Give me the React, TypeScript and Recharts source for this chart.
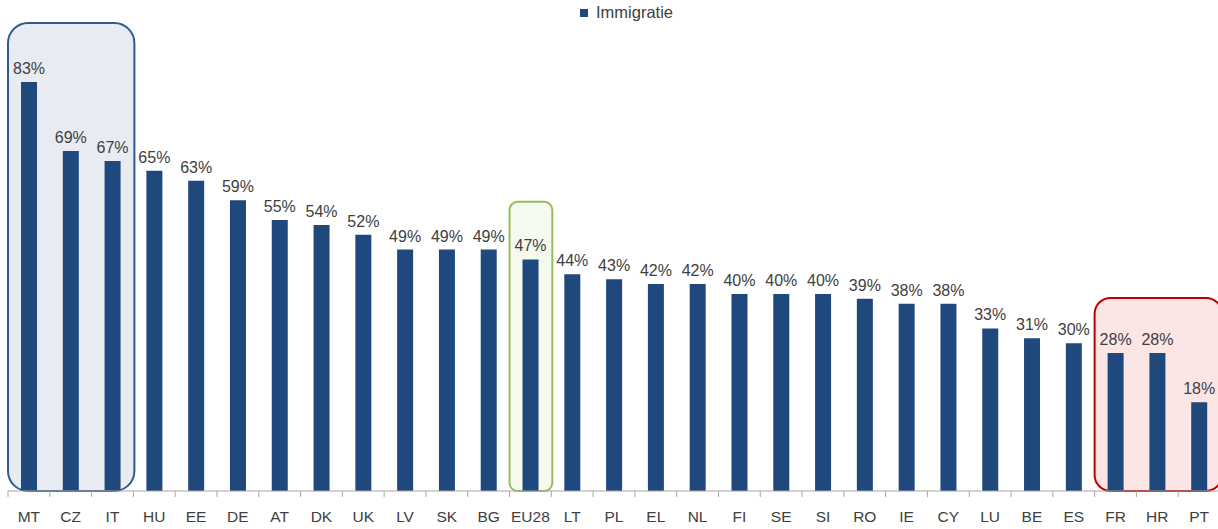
import { BarChart, Bar, XAxis, YAxis, LabelList, Legend, ReferenceArea } from "recharts";

const COUNTRIES = ["MT", "CZ", "IT", "HU", "EE", "DE", "AT", "DK", "UK", "LV", "SK", "BG", "EU28", "LT", "PL", "EL", "NL", "FI", "SE", "SI", "RO", "IE", "CY", "LU", "BE", "ES", "FR", "HR", "PT"];
const IMMIGRATIE = [83, 69, 67, 65, 63, 59, 55, 54, 52, 49, 49, 49, 47, 44, 43, 42, 42, 40, 40, 40, 39, 38, 38, 33, 31, 30, 28, 28, 18];

const BAR_COLOR = "#1f497d";
const TEXT = "#404040";
const FONT = "'Liberation Sans', Arial, sans-serif";

const data = COUNTRIES.map((c, i) => ({ country: c, value: IMMIGRATIE[i] }));

// rounded highlight box, optional extra width on the right
const roundBox = (rx: number, extra = 0) => (props: any) => {
  const { x, y, width, height, fill, stroke } = props;
  return <rect x={x} y={y} width={width + extra} height={height} rx={rx} ry={rx} fill={fill} stroke={stroke} strokeWidth={2} />;
};

function Tick(props: any) {
  const { x, y, payload, index } = props;
  const half = payload.offset ?? 20.9;
  return (
    <g>
      <line x1={x - half} y1={y - 8} x2={x - half} y2={y - 2} stroke="#a6a6a6" />
      {index === COUNTRIES.length - 1 && (
        <line x1={x + half} y1={y - 8} x2={x + half} y2={y - 2} stroke="#a6a6a6" />
      )}
      <text x={x} y={y + 23} textAnchor="middle" fill={TEXT} fontSize={15.5} fontFamily={FONT}>
        {payload.value}
      </text>
    </g>
  );
}

function LegendContent() {
  return (
    <div style={{ position: "relative", height: 23 }}>
      <div style={{ position: "absolute", left: 580, top: 3, display: "flex", alignItems: "center", fontFamily: FONT, fontSize: 16.5, color: TEXT }}>
        <span style={{ width: 8, height: 8, background: BAR_COLOR, display: "inline-block", marginRight: 8 }} />
        Immigratie
      </div>
    </div>
  );
}

export default function App() {
  return (
    <div style={{ position: "absolute", left: 0, top: 0, width: 1218, height: 529, overflow: "hidden", background: "#fff" }}>
      <BarChart width={1220} height={529} data={data} margin={{ top: 0, right: 0, bottom: 0, left: 8 }} barCategoryGap={0}>
        <Legend verticalAlign="top" align="left" content={<LegendContent />} wrapperStyle={{ left: 0, top: 0, width: 1220 }} />
        <XAxis dataKey="country" height={38} interval={0} axisLine={{ stroke: "#a6a6a6" }} tickLine={false} tick={<Tick />} />
        <YAxis hide domain={[0, 95]} />
        <ReferenceArea x1="MT" x2="IT" y1={0} y2={95} fill="rgba(31,73,125,0.1)" fillOpacity={1} stroke="#2f5b8f" shape={roundBox(20, 1)} />
        <Bar dataKey="value" fill={BAR_COLOR} barSize={16} isAnimationActive={false}>
          <LabelList dataKey="value" position="top" offset={8} formatter={(v: any) => `${v}%`} fill={TEXT} fontSize={16} fontFamily={FONT} />
        </Bar>
        <ReferenceArea x1="EU28" x2="EU28" y1={0} y2={58.7} fill="rgba(146,208,80,0.1)" fillOpacity={1} stroke="#9bbb59" shape={roundBox(8, 1)} />
        <ReferenceArea x1="FR" x2="PT" y1={0} y2={39.2} fill="rgba(220,0,0,0.1)" fillOpacity={1} stroke="#c00000" shape={roundBox(16, 2)} />
      </BarChart>
    </div>
  );
}
